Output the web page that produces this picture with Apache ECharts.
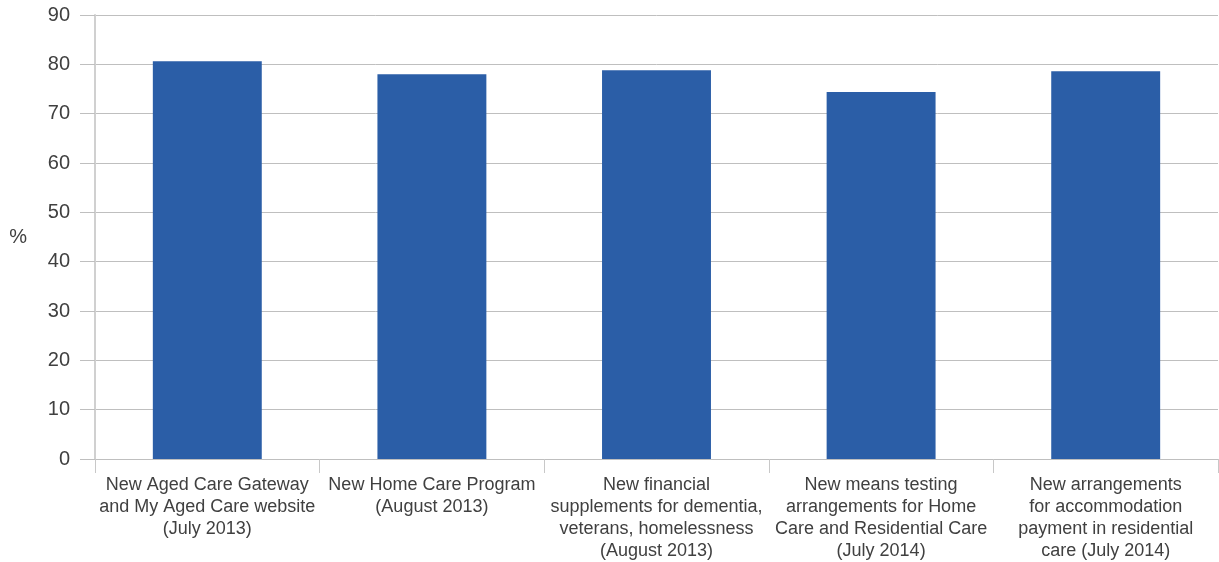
<!DOCTYPE html>
<html><head><meta charset="utf-8">
<script src="https://cdn.jsdelivr.net/npm/echarts@6/dist/echarts.min.js"></script>
<style>html,body{margin:0;padding:0;background:#fff}#c{width:1219px;height:562px}</style>
</head><body><div id="c"></div>
<script>
const categories = [
  "New Aged Care Gateway\nand My Aged Care website\n(July 2013)",
  "New Home Care Program\n(August 2013)",
  "New financial\nsupplements for dementia,\nveterans, homelessness\n(August 2013)",
  "New means testing\narrangements for Home\nCare and Residential Care\n(July 2014)",
  "New arrangements\nfor accommodation\npayment in residential\ncare (July 2014)"
];
const values = [80.6, 78.0, 78.8, 74.4, 78.6];
const yTicks = { min: 0, max: 90, interval: 10 };

const chart = echarts.init(document.getElementById('c'));
chart.setOption({
  animation: false,
  grid: { left: 95, right: 1, top: 15, bottom: 101, containLabel: false },
  xAxis: {
    type: 'category',
    data: categories,
    axisLine: { show: true, lineStyle: { color: '#bfbfbf', width: 1 } },
    axisTick: { show: true, length: 14, lineStyle: { color: '#c8c8c8' } },
    axisLabel: { interval: 0, margin: 15, fontFamily: 'Liberation Sans', fontSize: 18, lineHeight: 22, color: '#404040' }
  },
  yAxis: {
    type: 'value',
    min: yTicks.min, max: yTicks.max, interval: yTicks.interval,
    name: '%', nameLocation: 'middle', nameRotate: 0, nameGap: 68,
    nameTextStyle: { fontFamily: 'Liberation Sans', fontSize: 20, color: '#404040', padding: [9, 0, 0, 0] },
    axisLine: { show: true, lineStyle: { color: '#d0d0d0', width: 2 } },
    axisTick: { show: true, length: 15, lineStyle: { color: '#bfbfbf' } },
    axisLabel: { margin: 25, fontFamily: 'Liberation Sans', fontSize: 20, color: '#404040' },
    splitLine: { show: true, lineStyle: { color: '#bfbfbf', width: 1 } }
  },
  series: [{
    type: 'bar',
    data: values,
    barWidth: '48.5%',
    itemStyle: { color: '#2B5EA7' }
  }]
});
</script></body></html>
